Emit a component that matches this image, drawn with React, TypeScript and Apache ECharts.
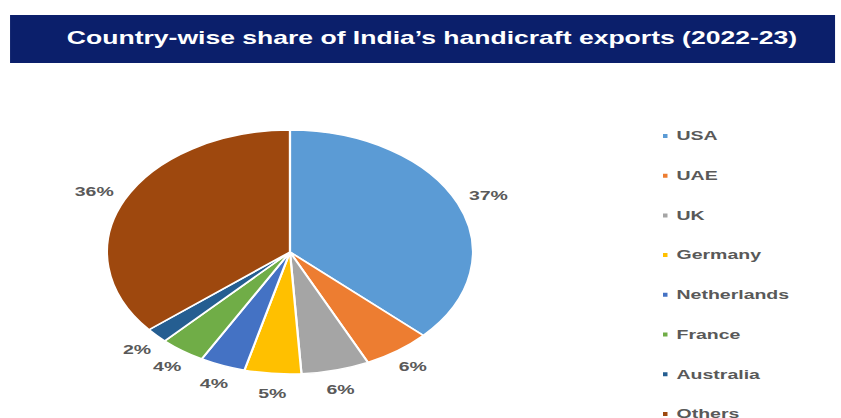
import React, { useEffect, useRef } from "react";
import * as echarts from "echarts";

const TITLE = "Country-wise share of India\u2019s handicraft exports (2022-23)";
const countries = ["USA", "UAE", "UK", "Germany", "Netherlands", "France", "Australia", "Others"];
const shares = [37, 6, 6, 5, 4, 4, 2, 36];
const colors = ["#5B9BD5", "#ED7D31", "#A5A5A5", "#FFC000", "#4472C4", "#70AD47", "#255E91", "#9E480E"];

const SX = 1.5; // the reference is stretched horizontally
const W = 841 / SX;
const H = 418;

export default function App() {
  const ref = useRef<HTMLDivElement>(null);
  useEffect(() => {
    if (!ref.current) return;
    const chart = echarts.init(ref.current, undefined, { renderer: "svg" });
    chart.setOption({
      animation: false,
      backgroundColor: "#ffffff",
      color: colors,
      title: {
        text: TITLE,
        left: 288,
        textAlign: "center",
        top: 29,
        padding: 0,
        textStyle: {
          color: "#ffffff",
          fontSize: 17.7,
          fontWeight: "bold",
          fontFamily: "Liberation Sans, Arial, sans-serif",
        },
      },
      graphic: [
        {
          type: "rect",
          z: -1,
          shape: { x: 6.7, y: 15, width: 550, height: 48 },
          style: { fill: "#0b1f6b" },
        },
      ],
      legend: {
        orient: "vertical",
        left: 440,
        top: 129,
        height: 400,
        padding: 0,
        icon: "rect",
        itemWidth: 5,
        itemHeight: 6,
        itemGap: 25.7,
        data: countries,
        textStyle: {
          color: "#595959",
          fontSize: 13,
          lineHeight: 14,
          fontWeight: "bold",
          fontFamily: "Liberation Sans, Arial, sans-serif",
        },
      },
      series: [
        {
          type: "pie",
          center: [193.3, 252],
          radius: 122,
          startAngle: 90,
          clockwise: true,
          avoidLabelOverlap: false,
          itemStyle: { borderColor: "#ffffff", borderWidth: 1.5 },
          label: {
            show: true,
            position: "outside",
            formatter: "{c}%",
            color: "#595959",
            fontSize: 13,
            fontWeight: "bold",
            fontFamily: "Liberation Sans, Arial, sans-serif",
            distanceToLabelLine: -11,
          },
          labelLine: { show: false, length: 20, length2: 0 },
          emphasis: { disabled: true },
          data: countries.map((name, i) => ({ name, value: shares[i] })),
        },
      ],
    });
    return () => chart.dispose();
  }, []);
  return (
    <div
      style={{
        position: "absolute",
        left: 0,
        top: 0,
        width: W,
        height: H,
        transform: `scaleX(${SX})`,
        transformOrigin: "0 0",
      }}
    >
      <div ref={ref} style={{ width: W, height: H }} />
    </div>
  );
}
